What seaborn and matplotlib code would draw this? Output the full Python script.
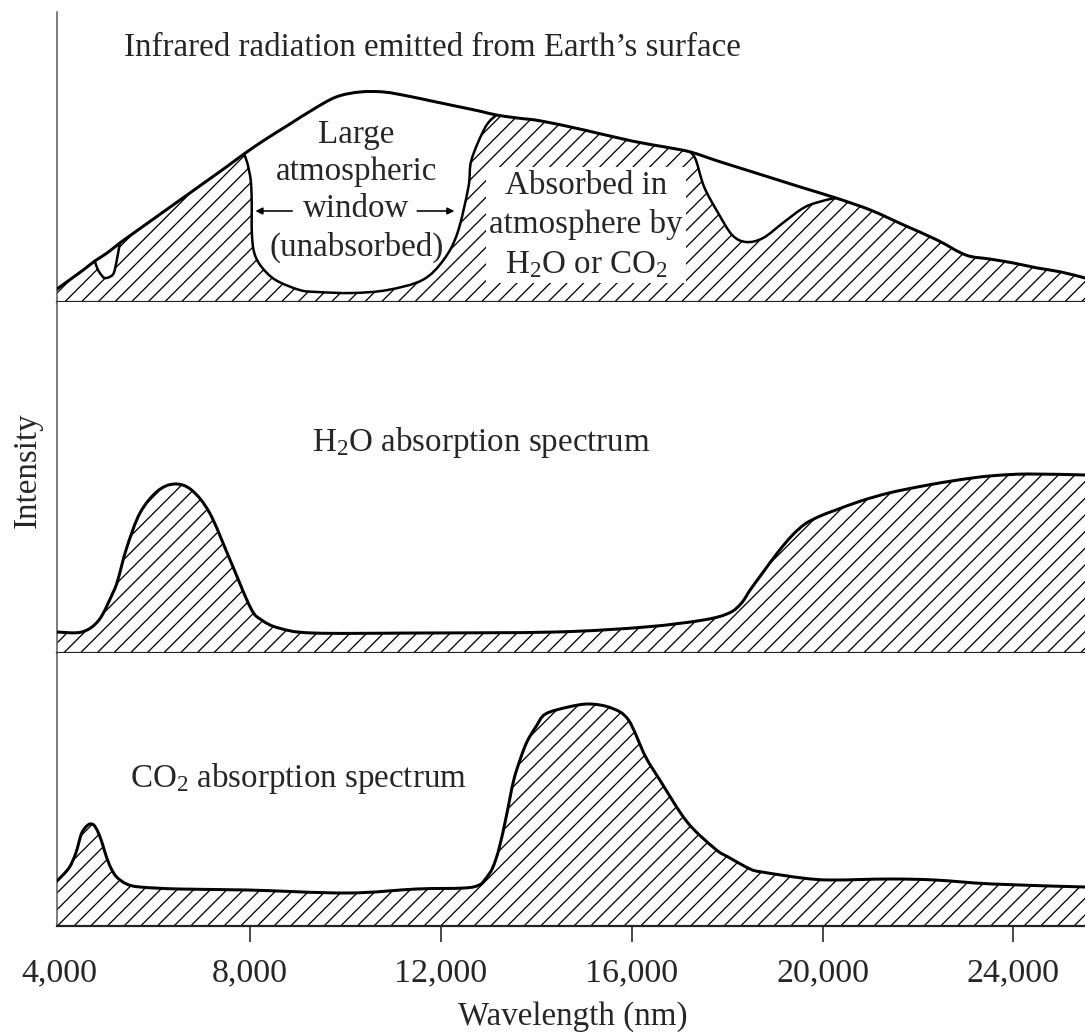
import numpy as np
import pandas as pd
import matplotlib
matplotlib.use("Agg")
import matplotlib.pyplot as plt
from matplotlib.path import Path
from matplotlib.patches import PathPatch
import seaborn as sns

# ---------------- data (wavelength in nm, intensity in arbitrary units) ----------------
# Top panel: infrared radiation emitted from Earth's surface (outer curve)
emit_wl = [3950, 4500, 4743, 5000, 5267, 5500, 6000, 6500, 7000, 7500, 7870, 8300, 8800,
           9300, 9800, 10300, 10800, 11300, 11800, 12300, 12800, 13160, 13600, 14100,
           15000, 16000, 16700, 17230, 17800, 18400, 19000, 19600, 20280, 21000, 21700,
           22400, 23000, 23500, 24000, 24500, 25000, 25500]
emit_val = [13, 32, 41, 49, 59, 67, 84, 101, 118, 135, 148, 162, 177,
            192, 205, 210, 210, 206, 201, 196, 191, 187, 184, 181,
            172, 161, 155, 150, 141, 132, 123, 114, 104, 92, 77,
            62, 47, 43, 39, 34, 30, 24]

# Unabsorbed windows (lower boundary of the white regions inside the emission curve)
notch_wl = [4743, 4800, 4880, 4950, 5050, 5140, 5204, 5267]
notch_val = [41, 33, 27, 24, 25, 29, 42, 59]

window_wl = [7870, 7940, 8010, 8031, 8035, 8086, 8240, 8533, 9036, 9413, 10146, 10879,
             11612, 12052, 12345, 12575, 12638, 12931, 13160]
window_val = [148, 139, 122, 102, 69, 49, 35, 22, 12, 10, 9, 12,
              22, 42, 69, 115, 142, 175, 187]

small_wl = [17230, 17343, 17517, 17810, 18103, 18396, 18752, 19192, 19632, 20072, 20280]
small_val = [150, 142, 115, 89, 67, 60, 64, 80, 95, 102, 104]

# Middle panel: H2O absorption spectrum
h2o_wl = [3950, 4470, 4830, 5120, 5225, 5410, 5690, 6060, 6420, 6770, 7150, 7570, 8010,
          8240, 8600, 9310, 11490, 14400, 16280, 17500, 18040, 18300, 18480, 18740, 19050,
          19350, 19630, 19950, 20280, 20800, 21390, 22100, 22840, 23500, 24300, 25500]
h2o_val = [21, 21, 33, 60, 73, 105, 140, 162, 169, 163, 140, 94, 45,
           33, 25, 20, 20, 21, 26, 33, 40, 50, 63, 80, 100,
           117, 129, 137, 143, 152, 160, 167, 173, 177, 179, 178]

# Bottom panel: CO2 absorption spectrum
co2_wl = [3950, 4200, 4345, 4460, 4555, 4640, 4720, 4800, 4890, 4980, 5080, 5200, 5410,
          5690, 6500, 7950, 10040, 11490, 12490, 12800, 12930, 13080, 13220, 13370, 13520,
          13670, 13810, 14000, 14190, 14670, 15110, 15570, 15930, 16280, 16600, 17160,
          17750, 18020, 18480, 18730, 19570, 20180, 21390, 22350, 23560, 25500]
co2_val = [45, 58, 73, 92, 99, 102, 101, 95, 84, 70, 58, 49, 42,
           39, 37, 36, 33, 37, 38, 41, 47, 58, 78, 110, 145,
           168, 185, 200, 212, 219, 222, 218, 206, 170, 145, 104,
           77, 69, 57, 54, 48, 46, 47, 46, 42, 39]

tick_values = [4000, 8000, 12000, 16000, 20000, 24000]
tick_labels = ["4,000", "8,000", "12,000", "16,000", "20,000", "24,000"]

title_top = "Infrared radiation emitted from Earth\u2019s surface"
window_text = "Large\natmospheric\nwindow\n(unabsorbed)"
absorbed_text = "Absorbed in\natmosphere by\nH$_\\mathrm{2}$O or CO$_\\mathrm{2}$"
h2o_text = "H$_\\mathrm{2}$O absorption spectrum"
co2_text = "CO$_\\mathrm{2}$ absorption spectrum"
xlabel = "Wavelength (nm)"
ylabel = "Intensity"

# ---------------- styling ----------------
DPI = 100
W, H = 1085, 1034


def pt(px):
    return px * 72.0 / DPI


sns.set_theme(style="white")
plt.rcParams["font.family"] = ["Liberation Serif", "DejaVu Serif"]
plt.rcParams["mathtext.fontset"] = "custom"
plt.rcParams["mathtext.rm"] = "Liberation Serif"
plt.rcParams["mathtext.it"] = "Liberation Serif:italic"
plt.rcParams["hatch.linewidth"] = pt(1.3)
plt.rcParams["hatch.color"] = "black"

FS = pt(33)
FS_TICK = pt(34)
LW = pt(3.0)
HATCH = "//"


def segments(x, y):
    """Smooth (Catmull-Rom) cubic segments through the given points."""
    P = np.column_stack([x, y]).astype(float)
    n = len(P)
    segs = []
    for i in range(n - 1):
        p0 = P[i - 1] if i > 0 else P[i]
        p1, p2 = P[i], P[i + 1]
        p3 = P[i + 2] if i + 2 < n else P[i + 1]
        segs.append((p1, p1 + (p2 - p0) / 6.0, p2 - (p3 - p1) / 6.0, p2))
    return segs


def seg_path_parts(segs, reverse=False):
    verts, codes = [], []
    seq = segs[::-1] if reverse else segs
    for s in seq:
        a, c1, c2, b = (s[3], s[2], s[1], s[0]) if reverse else s
        verts += [c1, c2, b]
        codes += [Path.CURVE4] * 3
    return verts, codes


def curve_line(ax, x, y, lw, z=5):
    segs = segments(x, y)
    v, c = seg_path_parts(segs)
    path = Path([segs[0][0]] + v, [Path.MOVETO] + c)
    ax.add_patch(PathPatch(path, fill=False, edgecolor="black", lw=lw,
                           capstyle="round", joinstyle="round", zorder=z))


def hatched(ax, x, y):
    segs = segments(x, y)
    v, c = seg_path_parts(segs)
    verts = [(x[0], 0), (x[0], y[0])] + v + [(x[-1], 0), (x[0], 0)]
    codes = [Path.MOVETO, Path.LINETO] + c + [Path.LINETO, Path.CLOSEPOLY]
    ax.add_patch(PathPatch(Path(verts, codes), facecolor="white", edgecolor="black",
                           hatch=HATCH, lw=0, zorder=1))
    curve_line(ax, x, y, LW)


fig = plt.figure(figsize=(W / DPI, H / DPI), dpi=DPI)
left = 57 / W
panels = [(12, 302, 290), (302, 653, 351), (653, 926, 273)]
axes = []
for top, bot, hmax in panels:
    ax = fig.add_axes([left, 1 - bot / H, 1 - left, (bot - top) / H])
    ax.set_xlim(3950, 25500)
    ax.set_ylim(0, hmax)
    ax.set_facecolor("white")
    sns.despine(ax=ax, top=True, right=True)
    ax.spines["left"].set_color("#555555")
    ax.spines["left"].set_linewidth(pt(1.5))
    ax.spines["bottom"].set_color("#222222")
    ax.spines["bottom"].set_linewidth(pt(2.2))
    ax.set_yticks([])
    ax.set_xticks(tick_values)
    ax.tick_params(axis="x", direction="out", length=pt(16), width=pt(1.6),
                   color="#222222", bottom=True, pad=pt(16))
    ax.xaxis.get_major_ticks()[0].tick1line.set_visible(False)
    axes.append(ax)

ax_top, ax_mid, ax_bot = axes
for ax in (ax_top, ax_mid):
    ax.set_xticklabels([])
ax_bot.set_xticklabels(tick_labels, fontsize=FS_TICK)

# top panel: emitted radiation, hatched where absorbed
hatched(ax_top, emit_wl, emit_val)
emit_segs = segments(emit_wl, emit_val)
for wx, wy in [(notch_wl, notch_val), (window_wl, window_val), (small_wl, small_val)]:
    i0 = emit_wl.index(wx[0])
    i1 = emit_wl.index(wx[-1])
    inner = segments(wx, wy)
    v1, c1 = seg_path_parts(inner)
    v2, c2 = seg_path_parts(emit_segs[i0:i1], reverse=True)
    path = Path([inner[0][0]] + v1 + v2 + [inner[0][0]],
                [Path.MOVETO] + c1 + c2 + [Path.CLOSEPOLY])
    ax_top.add_patch(PathPatch(path, facecolor="white", edgecolor="none", zorder=2))
    curve_line(ax_top, wx, wy, pt(2.5))

ax_top.text(11820, 254, title_top, ha="center", va="center", fontsize=FS, zorder=6)
ax_top.text(10230, 111, window_text, ha="center", va="center", fontsize=FS,
            linespacing=1.29, multialignment="center", zorder=6)
arrow_kw = dict(arrowstyle="-|>", lw=pt(1.6), color="black", mutation_scale=pt(14),
                shrinkA=0, shrinkB=0)
ax_top.annotate("", xy=(8110, 91), xytext=(8880, 91), arrowprops=arrow_kw, zorder=6)
ax_top.annotate("", xy=(12280, 91), xytext=(11500, 91), arrowprops=arrow_kw, zorder=6)
ax_top.text(15040, 77, absorbed_text, ha="center", va="center", fontsize=FS,
            linespacing=1.37, multialignment="center", zorder=3,
            bbox=dict(boxstyle="square,pad=0.1", facecolor="white", edgecolor="none"))

# middle panel
hatched(ax_mid, h2o_wl, h2o_val)
ax_mid.text(12840, 210, h2o_text, ha="center", va="center", fontsize=FS, zorder=6)

# bottom panel
hatched(ax_bot, co2_wl, co2_val)
ax_bot.text(9010, 147, co2_text, ha="center", va="center", fontsize=FS, zorder=6)

fig.text(28 / W, 1 - 470 / H, ylabel, rotation=90, ha="center", va="center", fontsize=FS)
fig.text(573 / W, 1 - 1017 / H, xlabel, ha="center", va="center", fontsize=FS)

fig.savefig("out.png", dpi=DPI)
